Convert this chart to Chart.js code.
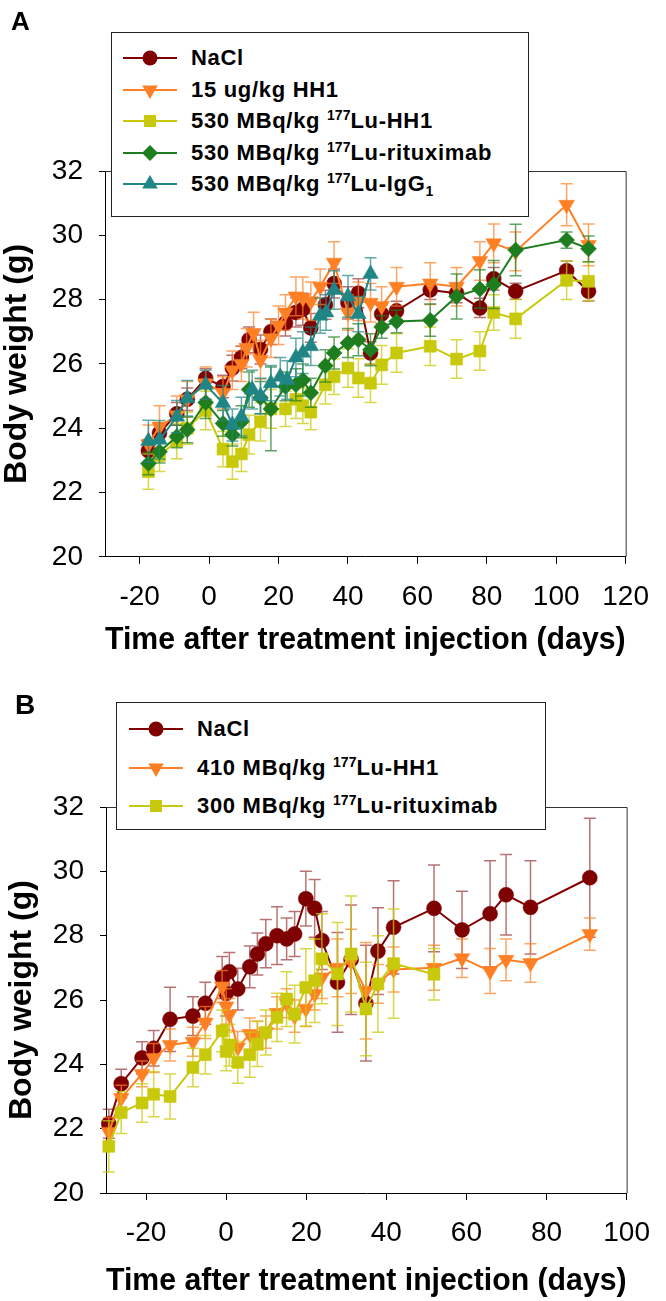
<!DOCTYPE html>
<html>
<head>
<meta charset="utf-8">
<script src="https://cdn.jsdelivr.net/npm/chart.js@4.4.1/dist/chart.umd.min.js"></script>
<style>
  html, body { margin: 0; padding: 0; background: #fff; }
  #wrap { position: relative; width: 666px; height: 1301px; overflow: hidden; font-family: "Liberation Sans", Arial, sans-serif; }
  canvas { position: absolute; left: 0; }
  .panel { position: absolute; font-weight: bold; line-height: 1; color: #000; }
  .legend { position: absolute; box-sizing: border-box; border: 1px solid #222; background: #fff; z-index: 5; }
  .legend svg { position: absolute; }
  .legend .txt { position: absolute; height: 30px; line-height: 30px; font-weight: bold; font-size: 22px; white-space: nowrap; color: #000; letter-spacing: 0.7px; }
  .sup { font-size: 14px; position: relative; top: -8px; letter-spacing: 0; }
  .sub { font-size: 14px; position: relative; top: 5px; letter-spacing: 0; }
</style>
</head>
<body>
<div id="wrap">
  <canvas id="chartA" width="666" height="680" style="top:0px"></canvas>
  <canvas id="chartB" width="666" height="621" style="top:680px"></canvas>
  <div class="panel" style="left:11px;top:8px;font-size:26px">A</div>
  <div class="panel" style="left:15px;top:691px;font-size:28px">B</div>
  <div class="legend" id="legA" style="left:111px;top:32px;width:418px;height:185px"></div>
  <div class="legend" id="legB" style="left:116px;top:702px;width:430px;height:128px"></div>
</div>
<script>
// ---------------- Axis ticks ----------------
const xTicksA = [-20, 0, 20, 40, 60, 80, 100, 120];
const xTicksB = [-20, 0, 20, 40, 60, 80, 100];
const yTicks = [20, 22, 24, 26, 28, 30, 32];

// ---------------- Panel A ----------------
const labelsA = ["NaCl", "15 ug/kg HH1", "530 MBq/kg <span class='sup'>177</span>Lu-HH1",
                 "530 MBq/kg <span class='sup'>177</span>Lu-rituximab", "530 MBq/kg <span class='sup'>177</span>Lu-IgG<span class='sub'>1</span>"];

const daysA_nacl = [-17.5, -14.3, -9.3, -6.3, -1, 4, 6.7, 9.3, 11.5, 14.8, 17.8, 22, 25, 27, 29.3, 33.5, 36, 40, 43, 46.5, 49.7, 54, 63.7, 71.3, 78, 82, 88.3, 103, 109.3];
const wA_nacl = [23.3, 23.85, 24.45, 24.9, 25.55, 25.3, 25.87, 26.2, 26.75, 26.45, 27.0, 27.27, 27.6, 27.7, 27.12, 27.84, 28.5, 27.9, 28.2, 26.34, 27.55, 27.65, 28.3, 28.2, 27.74, 28.65, 28.26, 28.9, 28.26];
const eA_nacl = [0.35, 0.3, 0.35, 0.35, 0.3, 0.35, 0.4, 0.35, 0.4, 0.45, 0.4, 0.4, 0.45, 0.5, 0.45, 0.45, 0.45, 0.5, 0.45, 0.35, 0.3, 0.3, 0.3, 0.3, 0.3, 0.35, 0.25, 0.3, 0.3];

const daysA_hh1 = [-17.5, -14.3, -9.3, -6.3, -1, 4, 6.7, 9.3, 10.8, 12.8, 14.8, 17.8, 20, 22, 25, 27, 29.3, 32, 36, 40, 43, 46.5, 49.7, 54, 63.7, 71.3, 78, 82, 88.3, 103, 109.3];
const wA_hh1 = [23.5, 24.05, 24.4, 24.9, 25.4, 25.1, 25.8, 26.0, 26.5, 26.96, 26.13, 26.8, 27.2, 27.6, 28.1, 28.05, 27.95, 28.4, 29.15, 27.6, 27.95, 27.9, 27.8, 28.4, 28.5, 28.4, 29.2, 29.75, 29.5, 30.95, 29.7];
const eA_hh1 = [0.6, 0.65, 0.6, 0.55, 0.5, 0.5, 0.6, 0.55, 0.6, 0.65, 0.6, 0.6, 0.6, 0.55, 0.6, 0.65, 0.6, 0.55, 0.65, 0.55, 0.6, 0.6, 0.6, 0.6, 0.65, 0.6, 0.6, 0.6, 0.6, 0.65, 0.65];

const daysA_luhh1 = [-17.5, -14.3, -9.3, -6.3, -1, 4, 6.7, 9.3, 11.5, 14.8, 17.8, 22, 25, 27, 29.3, 33.5, 36, 40, 43, 46.5, 49.7, 54, 63.7, 71.3, 78, 82, 88.3, 103, 109.3];
const wA_luhh1 = [22.65, 23.15, 23.6, 24.0, 24.55, 23.35, 22.96, 23.2, 23.8, 24.2, 24.6, 24.6, 24.9, 24.7, 24.5, 25.35, 25.6, 25.87, 25.56, 25.4, 25.97, 26.34, 26.55, 26.15, 26.4, 27.6, 27.4, 28.6, 28.57];
const eA_luhh1 = [0.55, 0.5, 0.55, 0.5, 0.6, 0.55, 0.55, 0.55, 0.6, 0.6, 0.6, 0.55, 0.6, 0.55, 0.55, 0.6, 0.55, 0.6, 0.6, 0.6, 0.6, 0.6, 0.6, 0.6, 0.6, 0.55, 0.6, 0.6, 0.6];

const daysA_lurit = [-17.5, -14.3, -9.3, -6.3, -1, 4, 6.7, 9.3, 11.5, 14.8, 17.8, 22, 25, 27, 29.3, 33.5, 36, 40, 43, 46.5, 49.7, 54, 63.7, 71.3, 78, 82, 88.3, 103, 109.3];
const wA_lurit = [22.9, 23.27, 23.74, 23.95, 24.8, 24.15, 23.8, 24.2, 25.2, 24.95, 24.6, 25.3, 25.35, 25.5, 25.1, 25.94, 26.34, 26.65, 26.75, 26.44, 27.15, 27.32, 27.36, 28.1, 28.33, 28.47, 29.54, 29.85, 29.58];
const eA_lurit = [0.35, 0.35, 0.35, 0.4, 0.5, 0.4, 0.35, 0.5, 0.55, 0.5, 1.3, 0.45, 0.5, 0.5, 0.45, 0.5, 0.5, 0.45, 0.5, 0.5, 0.35, 0.35, 0.5, 0.7, 0.6, 0.75, 0.8, 0.25, 0.4];

const daysA_luigg = [-17.5, -14.3, -9.3, -6.3, -1, 4, 6.7, 9.3, 12.4, 14.8, 17.8, 20.5, 22.5, 25, 27, 29.3, 32, 33.7, 36, 40, 43, 46.5];
const wA_luigg = [23.6, 23.64, 24.36, 24.93, 25.35, 24.78, 24.1, 24.36, 25.2, 25.0, 25.4, 25.6, 25.5, 26.2, 26.35, 26.55, 27.5, 27.6, 28.3, 28.1, 27.55, 28.8];
const eA_luigg = [0.65, 0.6, 0.5, 0.55, 0.45, 0.55, 0.5, 0.6, 0.6, 0.55, 0.55, 0.6, 0.6, 0.6, 0.65, 0.6, 0.55, 0.55, 0.6, 0.65, 0.55, 0.5];

// ---------------- Panel B ----------------
const labelsB = ["NaCl", "410 MBq/kg <span class='sup'>177</span>Lu-HH1", "300 MBq/kg <span class='sup'>177</span>Lu-rituximab"];

const daysB = [-29.3, -26.2, -21, -18.1, -14, -8.3, -5.2, -1, 0, 0.8, 2.9, 5.9, 7.8, 9.9, 12.7, 15.1, 17.1, 19.9, 22.1, 23.9, 27.8, 31.2, 34.9, 37.9, 41.8, 51.9, 58.9, 65.9, 69.9, 76, 90.8];
const wB_nacl = [22.15, 23.4, 24.2, 24.5, 25.4, 25.5, 25.9, 26.7, 26.2, 26.88, 26.34, 27.03, 27.43, 27.75, 28.0, 27.9, 28.05, 29.15, 28.85, 27.85, 26.55, 27.25, 25.9, 27.52, 28.26, 28.85, 28.18, 28.68, 29.27, 28.88, 29.8];
const eB_nacl = [0.45, 0.45, 0.5, 0.55, 1.0, 0.6, 0.65, 0.65, 0.7, 0.6, 0.65, 0.65, 0.65, 0.75, 0.9, 0.65, 0.7, 0.85, 0.9, 0.9, 1.55, 1.7, 1.8, 1.35, 1.45, 1.35, 1.2, 1.65, 1.25, 1.45, 1.85];
const wB_luhh1 = [21.9, 22.95, 23.7, 24.2, 24.6, 24.7, 25.3, 26.42, 25.8, 25.55, 24.52, 24.94, 24.9, 25.0, 25.6, 25.9, 25.5, 25.73, 26.19, 26.7, 27.0, 27.2, 26.29, 26.5, 26.95, 27.0, 27.3, 26.9, 27.25, 27.15, 28.05];
const eB_luhh1 = [0.45, 0.4, 0.4, 0.45, 0.5, 0.45, 0.5, 0.5, 0.55, 0.5, 0.5, 0.5, 0.45, 0.5, 0.5, 0.45, 0.5, 0.55, 0.5, 0.65, 0.9, 1.0, 1.5, 0.6, 0.7, 0.7, 0.6, 0.7, 0.65, 0.6, 0.5];
const daysB_lurit = [-29.3, -26.2, -21, -18.1, -14, -8.3, -5.2, -1, 0, 0.8, 2.9, 5.9, 7.8, 9.9, 12.7, 15.1, 17.1, 19.9, 22.1, 23.9, 27.8, 31.2, 34.9, 37.9, 41.8, 51.9];
const wB_lurit = [21.45, 22.5, 22.8, 23.07, 23.0, 23.9, 24.3, 25.04, 24.4, 24.6, 24.06, 24.3, 24.63, 24.99, 25.46, 26.03, 25.56, 26.39, 26.6, 27.28, 26.81, 27.43, 25.72, 26.5, 27.13, 26.8];
const eB_lurit = [0.8, 0.65, 0.6, 0.7, 0.7, 0.6, 0.6, 0.65, 0.6, 0.65, 0.65, 0.7, 0.7, 0.7, 0.75, 0.85, 0.9, 1.2, 1.3, 1.4, 1.6, 1.8, 1.45, 1.5, 1.7, 0.8];

// ---------------- Styles ----------------
const FONT = "'Liberation Sans', Arial, sans-serif";
const C_NACL = '#7F0000', C_ORANGE = '#FF7F24', C_YELLOW = '#C9C90C', C_GREEN = '#1E7D1E', C_TEAL = '#208585';
const E_NACL = 'rgba(127,0,0,0.55)', E_ORANGE = 'rgba(255,127,36,0.7)', E_YELLOW = 'rgba(201,201,12,0.75)', E_GREEN = 'rgba(30,125,30,0.7)', E_TEAL = 'rgba(32,133,133,0.7)';

const toXY = (xs, ys) => xs.map((x, i) => ({ x: x, y: ys[i] }));
const stripTags = s => s.replace(/<[^>]*>/g, '');

function series(label, xs, ys, errs, color, ecolor, style, radius, rotation, order) {
  return {
    label: stripTags(label), data: toXY(xs, ys), errors: errs, errorColor: ecolor,
    showLine: true, borderColor: color, backgroundColor: color, borderWidth: 2,
    pointStyle: style, pointRadius: radius, pointHoverRadius: radius, pointRotation: rotation,
    pointBackgroundColor: color, pointBorderColor: color, pointBorderWidth: 0.5,
    order: order, clip: false
  };
}

const errorBars = {
  id: 'errorBars',
  beforeDatasetDraw(chart, args) {
    const ds = chart.data.datasets[args.index];
    if (!ds.errors) return;
    const ys = chart.scales.y, ctx = chart.ctx;
    ctx.save();
    ctx.strokeStyle = ds.errorColor;
    ctx.lineWidth = 1.5;
    ctx.beginPath();
    args.meta.data.forEach((el, i) => {
      const v = ds.data[i].y, e = ds.errors[i];
      const yt = ys.getPixelForValue(v + e), yb = ys.getPixelForValue(v - e);
      const x = el.x;
      ctx.moveTo(x, yt); ctx.lineTo(x, yb);
      ctx.moveTo(x - 6, yt); ctx.lineTo(x + 6, yt);
      ctx.moveTo(x - 6, yb); ctx.lineTo(x + 6, yb);
    });
    ctx.stroke();
    ctx.restore();
  }
};

const frame = {
  id: 'frame',
  beforeDatasetsDraw(chart) {
    const a = chart.chartArea, ctx = chart.ctx;
    ctx.save();
    ctx.strokeStyle = '#333';
    ctx.lineWidth = 1;
    ctx.beginPath();
    ctx.moveTo(a.left, a.top + 0.5); ctx.lineTo(a.right + 0.5, a.top + 0.5); ctx.lineTo(a.right + 0.5, a.bottom);
    ctx.stroke();
    ctx.restore();
  }
};

function buildScales(xmin, xmax, xticks, o) {
  return {
    x: {
      type: 'linear', min: xmin, max: xmax,
      afterBuildTicks: s => { s.ticks = xticks.map(v => ({ value: v })); },
      afterFit: s => { s.height = o.xh; },
      grid: { display: true, drawOnChartArea: false, drawTicks: true, tickLength: 7, color: '#000', tickColor: '#000', tickWidth: 1 },
      border: { display: true, color: '#000', width: 1 },
      ticks: { color: '#000', font: { family: FONT, size: 28 }, padding: o.xpad, maxRotation: 0, autoSkip: false, callback: v => String(v) },
      title: { display: true, text: 'Time after treatment injection (days)', color: '#000',
               font: { family: FONT, size: 32, weight: 'bold', lineHeight: 1.2 }, padding: { top: 0, bottom: 0 } }
    },
    y: {
      type: 'linear', min: 20, max: 32,
      afterBuildTicks: s => { s.ticks = yTicks.map(v => ({ value: v })); },
      afterFit: s => { s.width = o.yw; },
      grid: { display: true, drawOnChartArea: false, drawTicks: true, tickLength: 6, color: '#000', tickColor: '#000', tickWidth: 1 },
      border: { display: true, color: '#000', width: 1 },
      ticks: { color: '#000', font: { family: FONT, size: 28 }, padding: 16, callback: v => String(v) },
      title: { display: true, text: 'Body weight (g)', color: '#000',
               font: { family: FONT, size: 32, weight: 'bold', lineHeight: 1.0 }, padding: { top: o.ytpad, bottom: 0 } }
    }
  };
}

function commonOptions(scales, pad) {
  return {
    responsive: false, animation: false, devicePixelRatio: 1,
    layout: { padding: pad },
    plugins: { legend: { display: false }, tooltip: { enabled: false } },
    scales: scales
  };
}

Chart.defaults.font.family = FONT;

const dsA = [
  series(labelsA[0], daysA_nacl, wA_nacl, eA_nacl, C_NACL, E_NACL, 'circle', 7.5, 0, 4),
  series(labelsA[1], daysA_hh1, wA_hh1, eA_hh1, C_ORANGE, E_ORANGE, 'triangle', 9, 180, 3),
  series(labelsA[2], daysA_luhh1, wA_luhh1, eA_luhh1, C_YELLOW, E_YELLOW, 'rect', 8.5, 0, 2),
  series(labelsA[3], daysA_lurit, wA_lurit, eA_lurit, C_GREEN, E_GREEN, 'rectRot', 8, 0, 1),
  series(labelsA[4], daysA_luigg, wA_luigg, eA_luigg, C_TEAL, E_TEAL, 'triangle', 9, 0, 0)
];
new Chart(document.getElementById('chartA'), {
  type: 'scatter',
  data: { datasets: dsA },
  options: commonOptions(buildScales(-30, 120, xTicksA, { xh: 102.2, xpad: 17, yw: 105, ytpad: 1 }),
                         { top: 171, right: 25, bottom: 21, left: 0 }),
  plugins: [errorBars, frame]
});

const dsB = [
  series(labelsB[0], daysB, wB_nacl, eB_nacl, C_NACL, E_NACL, 'circle', 7.5, 0, 2),
  series(labelsB[1], daysB, wB_luhh1, eB_luhh1, C_ORANGE, E_ORANGE, 'triangle', 9, 180, 1),
  series(labelsB[2], daysB_lurit, wB_lurit, eB_lurit, C_YELLOW, E_YELLOW, 'rect', 8.5, 0, 0)
];
new Chart(document.getElementById('chartB'), {
  type: 'scatter',
  data: { datasets: dsB },
  options: commonOptions(buildScales(-30, 100, xTicksB, { xh: 107, xpad: 16, yw: 106, ytpad: 6 }),
                         { top: 127, right: 25, bottom: 1, left: 0 }),
  plugins: [errorBars, frame]
});

// ---------------- HTML legends ----------------
function markerSVG(color, style) {
  const cx = 27, cy = 11;
  let shape = '';
  if (style === 'circle') shape = `<circle cx="${cx}" cy="${cy}" r="7.5" fill="${color}"/>`;
  else if (style === 'down') shape = `<polygon points="${cx-7.8},${cy-4.5} ${cx+7.8},${cy-4.5} ${cx},${cy+9}" fill="${color}"/>`;
  else if (style === 'up') shape = `<polygon points="${cx-7.8},${cy+4.5} ${cx+7.8},${cy+4.5} ${cx},${cy-9}" fill="${color}"/>`;
  else if (style === 'rect') shape = `<rect x="${cx-6}" y="${cy-6}" width="12" height="12" fill="${color}"/>`;
  else if (style === 'diamond') shape = `<polygon points="${cx},${cy-8} ${cx+8},${cy} ${cx},${cy+8} ${cx-8},${cy}" fill="${color}"/>`;
  return `<line x1="0" y1="${cy}" x2="54" y2="${cy}" stroke="${color}" stroke-width="2"/>${shape}`;
}
function buildLegend(id, labels, colors, styles, rowTop, rowStep, lineLeft, textLeft) {
  const box = document.getElementById(id);
  labels.forEach((lab, i) => {
    const c = rowTop + rowStep * i;
    const svg = document.createElementNS('http://www.w3.org/2000/svg', 'svg');
    svg.setAttribute('width', '54'); svg.setAttribute('height', '22');
    svg.style.left = lineLeft + 'px'; svg.style.top = (c - 11) + 'px';
    svg.innerHTML = markerSVG(colors[i], styles[i]);
    box.appendChild(svg);
    const t = document.createElement('div');
    t.className = 'txt';
    t.style.left = textLeft + 'px'; t.style.top = (c - 15) + 'px';
    t.innerHTML = lab;
    box.appendChild(t);
  });
}
buildLegend('legA', labelsA, [C_NACL, C_ORANGE, C_YELLOW, C_GREEN, C_TEAL], ['circle', 'down', 'rect', 'diamond', 'up'], 25, 31.5, 11, 79);
buildLegend('legB', labelsB, [C_NACL, C_ORANGE, C_YELLOW], ['circle', 'down', 'rect'], 26, 38.5, 12, 80);
</script>
</body>
</html>
